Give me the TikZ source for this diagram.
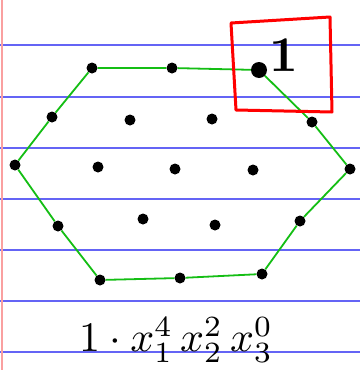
\documentclass[tikz,border=0pt]{standalone}
\usepackage{amsmath}
\usepackage{graphicx}
\usepackage{xcolor}
\usepackage{tikz}
\usetikzlibrary{positioning, calc}

\definecolor{ruleblue}{RGB}{100,100,245}
\definecolor{marginred}{RGB}{250,160,160}
\definecolor{hexgreen}{RGB}{20,190,20}

\tikzset{
  pt/.style={circle, fill=black, inner sep=0pt, minimum size=11pt},
  bigpt/.style={circle, fill=black, inner sep=0pt, minimum size=16pt},
  edge/.style={hexgreen, line width=1.8pt},
}

\begin{document}
\begin{tikzpicture}[x=1pt, y=-1pt]
\useasboundingbox (0,0) rectangle (360,370);
\fill[white] (0,0) rectangle (360,370);

% Paper lines
\foreach \y in {45,97,148,199,250,301,352} {
  \draw[ruleblue, line width=1.2pt] (0,\y) -- (360,\y);
}
\draw[marginred, line width=1.2pt] (2,0) -- (2,370);

% Lattice points
\foreach \n/\x/\y in {
  a/92/68, b/172/68,
  c/52/117, d/130/120, e/212/119, f/312/122,
  g/15/165, h/98/167, i/175/169, j/253/170, k/350/169,
  l/58/226, m/143/219, n/215/225, o/300/221,
  p/100/280, q/180/278, r/262/274%
} {
  \node[pt] (\n) at (\x,\y) {};
}
\node[bigpt] (top) at (259,70) {};

% Hexagon
\draw[edge] (a) -- (b) -- (top) -- (f) -- (k) -- (o) -- (r) -- (q) -- (p) -- (l) -- (g) -- (c) -- (a);

% Marked vertex
\node (one) at (284,55) {\scalebox{5}{\bfseries 1}};
\draw[red, line width=3pt, line join=round] (231,23) -- (330,17) -- (332,112) -- (236,110) -- cycle;

% Monomial
\node (mono) at (176,340) {\scalebox{4.2}{$1\cdot x_1^4\,x_2^2\,x_3^0$}};

\end{tikzpicture}
\end{document}
